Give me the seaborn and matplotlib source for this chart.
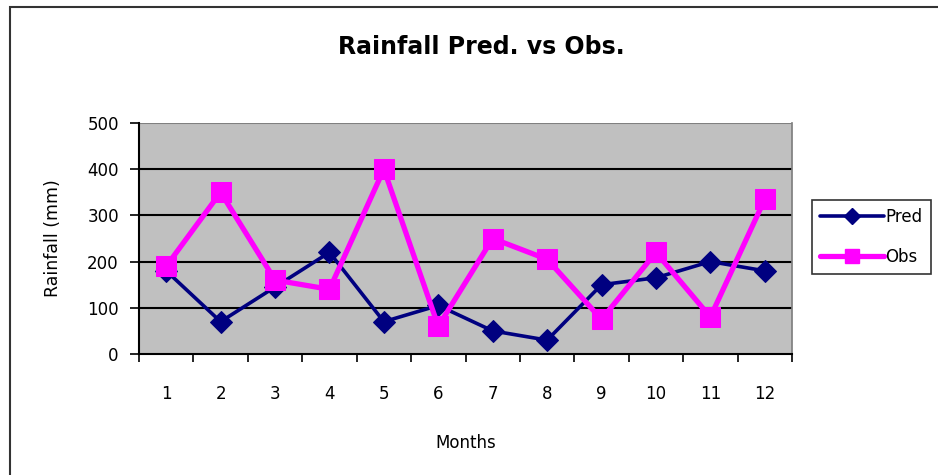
import matplotlib
matplotlib.use("Agg")
import matplotlib.pyplot as plt
import seaborn as sns
import pandas as pd
from matplotlib.lines import Line2D
from matplotlib.patches import Rectangle

months = list(range(1, 13))
pred = [180, 70, 145, 220, 70, 105, 50, 30, 150, 165, 200, 180]
obs = [190, 350, 160, 140, 400, 60, 250, 205, 75, 220, 80, 335]
yticks = [0, 100, 200, 300, 400, 500]

sns.set_theme(style="white")
plt.rcParams['font.family'] = ['DejaVu Sans']
plt.rcParams['text.color'] = 'black'
plt.rcParams['axes.labelcolor'] = 'black'
plt.rcParams['xtick.color'] = 'black'
plt.rcParams['ytick.color'] = 'black'

df = pd.DataFrame({"Month": months * 2,
                   "Rainfall": pred + obs,
                   "Series": ["Pred"] * 12 + ["Obs"] * 12})

fig = plt.figure(figsize=(9.38, 4.75), dpi=100)
ax = fig.add_axes([139/938, 1-354/475, (792-139)/938, (354-123)/475])
ax.set_facecolor("#C0C0C0")

sub_p = df[df.Series == "Pred"]
sub_o = df[df.Series == "Obs"]
sns.lineplot(data=sub_p, x="Month", y="Rainfall", color="#000080", lw=2.6,
             marker="D", markersize=11, markeredgecolor="#000080", ax=ax, legend=False, zorder=3)
sns.lineplot(data=sub_o, x="Month", y="Rainfall", color="#FF00FF", lw=3.8,
             marker="s", markersize=15, markeredgecolor="#FF00FF", ax=ax, legend=False, zorder=4)

ax.set_xlim(0.5, 12.5)
ax.set_ylim(0, 500)
ax.set_yticks(yticks)
ax.set_yticklabels([str(v) for v in yticks], fontsize=12)
ax.set_xticks(months)
ax.set_xticklabels([str(m) for m in months], fontsize=12)
ax.set_xticks([m + 0.5 for m in range(0, 13)], minor=True)
ax.tick_params(axis="x", which="major", length=0, pad=22)
ax.tick_params(axis="x", which="minor", length=6, width=1.2, color="black", direction="out", bottom=True)
ax.tick_params(axis="y", which="major", length=6.5, width=1.2, color="black", direction="out", left=True, pad=8)
for y in yticks[1:-1]:
    ax.axhline(y, color="black", lw=1.5, zorder=1)
ax.axhline(yticks[-1], color="#808080", lw=1.5, zorder=1)
ax.spines["left"].set_color("black")
ax.spines["left"].set_linewidth(1.5)
ax.spines["bottom"].set_color("black")
ax.spines["bottom"].set_linewidth(1.5)
ax.spines["right"].set_color("#808080")
ax.spines["top"].set_visible(False)
ax.set_xlabel("Months", fontsize=12, labelpad=23)
ax.set_ylabel("Rainfall (mm)", fontsize=12.5, labelpad=18)

fig.text(481/938, 1-47/475, "Rainfall Pred. vs Obs.", ha="center", va="center",
         fontsize=17, fontweight="bold")

handles = [Line2D([], [], color="#000080", lw=2.6, marker="D", markersize=8, label="Pred"),
           Line2D([], [], color="#FF00FF", lw=3.8, marker="s", markersize=10, label="Obs")]
leg = fig.legend(handles=handles, loc="center left", bbox_to_anchor=(812/938, 1-237/475),
                 frameon=True, fancybox=False, edgecolor="black", fontsize=12,
                 handlelength=3.8, handletextpad=0.1, borderpad=0.5, labelspacing=1.3,
                 borderaxespad=0)
leg.get_frame().set_linewidth(1.2)

fig.patches.append(Rectangle((10/938, -0.02), 1.0, 1-7/475 + 0.02, transform=fig.transFigure,
                             fill=False, edgecolor="#333333", lw=1.5))

fig.savefig("out.png", dpi=100)
